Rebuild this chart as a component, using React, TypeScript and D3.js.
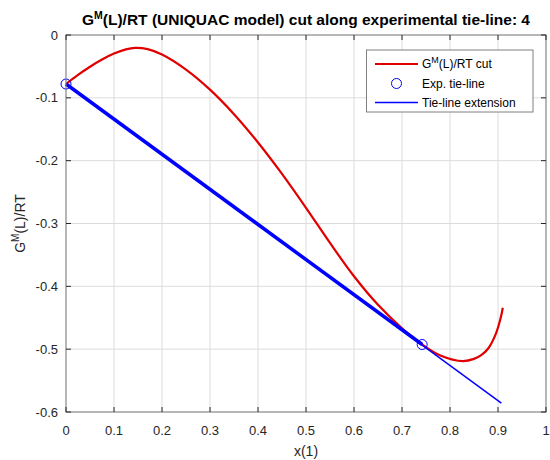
import React from "react";
import * as d3 from "d3";

const xTicks = [0, 0.1, 0.2, 0.3, 0.4, 0.5, 0.6, 0.7, 0.8, 0.9, 1];
const yTicks = [0, -0.1, -0.2, -0.3, -0.4, -0.5, -0.6];
const xTickLabels = ["0", "0.1", "0.2", "0.3", "0.4", "0.5", "0.6", "0.7", "0.8", "0.9", "1"];
const yTickLabels = ["0", "-0.1", "-0.2", "-0.3", "-0.4", "-0.5", "-0.6"];

// G^M(L)/RT cut curve
const cutX = [0, 0.025, 0.05, 0.075, 0.1, 0.125, 0.144, 0.17, 0.2, 0.25, 0.3, 0.35, 0.4, 0.45, 0.5, 0.55, 0.6, 0.65, 0.7, 0.742, 0.78, 0.827, 0.85, 0.865, 0.88, 0.895, 0.905, 0.91];
const cutY = [-0.078, -0.0635, -0.0505, -0.039, -0.0295, -0.0228, -0.0205, -0.0225, -0.031, -0.055, -0.087, -0.126, -0.171, -0.221, -0.275, -0.331, -0.384, -0.4295, -0.4668, -0.4926, -0.51, -0.519, -0.5155, -0.5095, -0.4985, -0.4765, -0.452, -0.434];

// Experimental tie-line points
const tieX = [0, 0.742];
const tieY = [-0.078, -0.4926];

// Tie-line extension
const extX = [0, 0.907];
const extY = [-0.078, -0.586];

export default function App() {
  const W = 550, H = 460;
  const L = 66, R = 546, T = 35, B = 412;
  const x = d3.scaleLinear().domain([0, 1]).range([L, R]);
  const y = d3.scaleLinear().domain([-0.6, 0]).range([B, T]);
  const line = d3.line<[number, number]>().x(d => x(d[0])).y(d => y(d[1]));
  const cutLine = d3.line<[number, number]>().x(d => x(d[0])).y(d => y(d[1])).curve(d3.curveCatmullRom.alpha(0.5));
  const cutPts = cutX.map((v, i) => [v, cutY[i]] as [number, number]);
  const tiePts = tieX.map((v, i) => [v, tieY[i]] as [number, number]);
  const extPts = extX.map((v, i) => [v, extY[i]] as [number, number]);
  const font = "'Liberation Sans', Arial, sans-serif";
  const axisColor = "#262626";
  const tickLen = 5;
  return (
    <svg width={W} height={H} style={{ position: "absolute", left: 0, top: 0, background: "#fff" }} fontFamily={font}>
      <rect x={0} y={0} width={W} height={H} fill="#fff" />
      {/* grid */}
      {xTicks.map((t, i) => (
        <line key={"gx" + i} x1={x(t)} x2={x(t)} y1={T} y2={B} stroke="#dcdcdc" strokeWidth={1} />
      ))}
      {yTicks.map((t, i) => (
        <line key={"gy" + i} x1={L} x2={R} y1={y(t)} y2={y(t)} stroke="#dcdcdc" strokeWidth={1} />
      ))}
      {/* data */}
      <path d={cutLine(cutPts) || ""} fill="none" stroke="#e00000" strokeWidth={2.2} />
      <path d={line(extPts) || ""} fill="none" stroke="#0000ff" strokeWidth={1.5} />
      <path d={line(tiePts) || ""} fill="none" stroke="#0000ff" strokeWidth={3.5} />
      {tiePts.map((p, i) => (
        <circle key={"c" + i} cx={x(p[0])} cy={y(p[1])} r={5} fill="none" stroke="#0000ff" strokeWidth={1} />
      ))}
      {/* axes box */}
      <rect x={L} y={T} width={R - L} height={B - T} fill="none" stroke="#808080" strokeWidth={1} />
      {xTicks.map((t, i) => (
        <g key={"tx" + i}>
          <line x1={x(t)} x2={x(t)} y1={B} y2={B - tickLen} stroke={axisColor} />
          <line x1={x(t)} x2={x(t)} y1={T} y2={T + tickLen} stroke={axisColor} />
          <text x={x(t)} y={B + 23} textAnchor="middle" fontSize={13} fill={axisColor}>{xTickLabels[i]}</text>
        </g>
      ))}
      {yTicks.map((t, i) => (
        <g key={"ty" + i}>
          <line x1={L} x2={L + tickLen} y1={y(t)} y2={y(t)} stroke={axisColor} />
          <line x1={R} x2={R - tickLen} y1={y(t)} y2={y(t)} stroke={axisColor} />
          <text x={L - 8} y={y(t) + 4.5} textAnchor="end" fontSize={13} fill={axisColor}>{yTickLabels[i]}</text>
        </g>
      ))}
      {/* labels */}
      <text x={(L + R) / 2} y={456} textAnchor="middle" fontSize={14} fill={axisColor}>x(1)</text>
      <text transform={`translate(25, ${(T + B) / 2}) rotate(-90)`} textAnchor="middle" fontSize={14} fill={axisColor}>
        G<tspan dy={-6} fontSize={10}>M</tspan><tspan dy={6}>(L)/RT</tspan>
      </text>
      <text x={(L + R) / 2} y={25} textAnchor="middle" fontSize={15.5} fontWeight="bold" fill="#000">
        G<tspan dy={-6} fontSize={10.5}>M</tspan><tspan dy={6}>(L)/RT (UNIQUAC model) cut along experimental tie-line: 4</tspan>
      </text>
      {/* legend */}
      <rect x={366.5} y={50} width={166.5} height={62} fill="#fff" stroke="#808080" strokeWidth={1} />
      <line x1={375} x2={418} y1={64} y2={64} stroke="#e00000" strokeWidth={2.2} />
      <text x={422} y={68} fontSize={12} fill="#000">
        G<tspan dy={-5} fontSize={9}>M</tspan><tspan dy={5}>(L)/RT cut</tspan>
      </text>
      <circle cx={396.5} cy={83.5} r={5} fill="none" stroke="#0000ff" strokeWidth={1} />
      <text x={422} y={88} fontSize={12} fill="#000">Exp. tie-line</text>
      <line x1={375} x2={418} y1={102.5} y2={102.5} stroke="#0000ff" strokeWidth={1.5} />
      <text x={422} y={107} fontSize={12} fill="#000">Tie-line extension</text>
    </svg>
  );
}
